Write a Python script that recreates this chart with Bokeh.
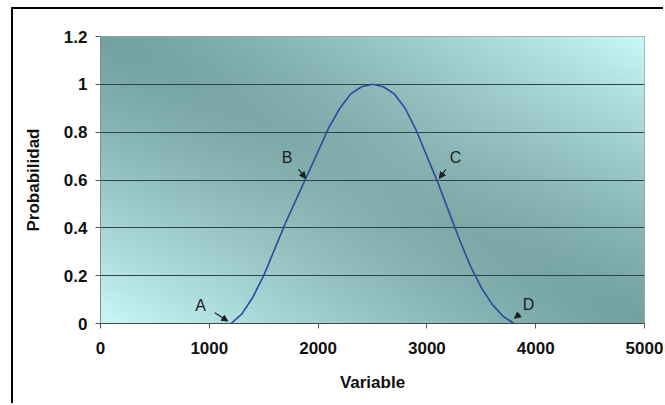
import numpy as np
from bokeh.plotting import figure
from bokeh.models import Range1d, FixedTicker, Arrow, NormalHead
from bokeh.core.properties import value
from bokeh.embed import file_html
from bokeh.resources import INLINE

# ---- data ----
variable = [1200, 1300, 1400, 1500, 1600, 1700, 1800, 1900, 2000, 2100, 2200, 2300, 2400,
            2500, 2600, 2700, 2800, 2900, 3000, 3100, 3200, 3300, 3400, 3500, 3600, 3700, 3800]
probabilidad = [0.00, 0.04, 0.11, 0.20, 0.31, 0.42, 0.52, 0.62, 0.72, 0.82, 0.90, 0.96, 0.99,
                1.00, 0.99, 0.96, 0.90, 0.81, 0.70, 0.59, 0.47, 0.35, 0.24, 0.15, 0.08, 0.03, 0.00]

x_ticks = [0, 1000, 2000, 3000, 4000, 5000]
y_ticks = [0, 0.2, 0.4, 0.6, 0.8, 1.0, 1.2]
y_tick_labels = ["0", "0.2", "0.4", "0.6", "0.8", "1", "1.2"]

point_names = ["A", "B", "C", "D"]
label_x = [920, 1716, 3263, 3934]
label_y = [0.075, 0.696, 0.696, 0.08]
arrow_x0 = [1050, 1820, 3175, 3855]
arrow_y0 = [0.045, 0.645, 0.645, 0.040]
arrow_x1 = [1170, 1885, 3115, 3805]
arrow_y1 = [0.010, 0.607, 0.607, 0.022]

FONT = "Liberation Sans"

p = figure(width=652, height=396, output_backend="svg", toolbar_location=None,
           x_range=Range1d(0, 5000), y_range=Range1d(0, 1.2),
           min_border_left=87, min_border_right=21, min_border_top=27, min_border_bottom=82,
           styles={"margin-left": "11px", "margin-top": "7px",
                   "border-left": "2px solid black", "border-top": "2px solid black"})
p.background_fill_color = "white"
p.border_fill_color = "white"
p.outline_line_color = "#9aa8a8"
p.outline_line_width = 1

# gradient background (styling only)
nx, ny = 220, 130
u = np.linspace(0, 1, nx)[None, :]
w = np.linspace(0, 1, ny)[:, None]
d = (u + w) / 2.0
e = np.abs(u - w)
f = np.abs(2 * d - 1) ** 1.4
dark = np.array([116, 162, 162])[None, None, :] + (16 * (1 - e))[:, :, None] * np.array([1.0, 0.7, 0.7])[None, None, :]
light = np.array([200, 248, 249])[None, None, :]
rgb = dark + (light - dark) * f[:, :, None]
img = np.empty((ny, nx), dtype=np.uint32)
view = img.view(dtype=np.uint8).reshape((ny, nx, 4))
view[:, :, 0] = np.clip(rgb[:, :, 0], 0, 255).astype(np.uint8)
view[:, :, 1] = np.clip(rgb[:, :, 1], 0, 255).astype(np.uint8)
view[:, :, 2] = np.clip(rgb[:, :, 2], 0, 255).astype(np.uint8)
view[:, :, 3] = 255
p.image_rgba(image=[img], x=0, y=0, dw=5000, dh=1.2, level="image")

# grid
p.xgrid.grid_line_color = None
p.ygrid.grid_line_color = "#2e4444"
p.ygrid.grid_line_width = 1
p.ygrid.level = "underlay"
p.ygrid.ticker = FixedTicker(ticks=y_ticks)

# curve
p.line(variable, probabilidad, line_color="#2b4aa0", line_width=1.6)

# labels and arrows
p.text(x=label_x, y=label_y, text=point_names, text_font=value(FONT), text_font_size="16px",
       text_color="#1e1e1e", text_align="center", text_baseline="middle")
for xs, ys, xe, ye in zip(arrow_x0, arrow_y0, arrow_x1, arrow_y1):
    p.add_layout(Arrow(end=NormalHead(size=6, fill_color="#1e1e1e", line_color="#1e1e1e"),
                       x_start=xs, y_start=ys, x_end=xe, y_end=ye,
                       line_color="#1e1e1e", line_width=1.2))

# axes
p.xaxis.ticker = FixedTicker(ticks=x_ticks)
p.yaxis.ticker = FixedTicker(ticks=y_ticks)
p.yaxis.major_label_overrides = {t: s for t, s in zip(y_ticks, y_tick_labels)}
for ax in (p.xaxis, p.yaxis):
    ax.major_label_text_font = FONT
    ax.major_label_text_font_style = "bold"
    ax.major_label_text_font_size = "17px"
    ax.major_label_text_color = "#111111"
    ax.axis_label_text_font = FONT
    ax.axis_label_text_font_style = "bold"
    ax.axis_label_text_font_size = "17px"
    ax.axis_label_text_color = "#111111"
    ax.minor_tick_line_color = None
    ax.major_tick_in = 0
    ax.major_tick_out = 5
    ax.major_tick_line_color = "#555555"
p.xaxis.axis_label = "Variable"
p.yaxis.axis_label = "Probabilidad"
p.xaxis.axis_line_color = "#444444"
p.yaxis.axis_line_color = "#888888"
p.xaxis.major_label_standoff = 13
p.xaxis.axis_label_standoff = 16
p.yaxis.major_label_standoff = 8
p.yaxis.axis_label_standoff = 18

open("out.html", "w").write(file_html(p, INLINE))
